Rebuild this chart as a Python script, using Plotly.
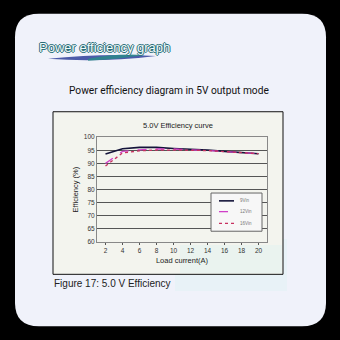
import plotly.graph_objects as go

load_current = [2, 4, 6, 8, 10, 12, 14, 16, 18, 20]
eff_9vin = [93.6, 95.6, 96.1, 96.1, 95.7, 95.5, 95.1, 94.6, 94.1, 93.7]
eff_12vin = [90.0, 94.6, 95.2, 95.5, 95.5, 95.2, 95.0, 94.6, 94.1, 93.7]
eff_16vin = [89.0, 94.0, 94.8, 95.1, 95.1, 95.0, 94.9, 94.5, 94.1, 93.7]
series_names = ["9Vin", "12Vin", "16Vin"]
y_ticks = [60, 65, 70, 75, 80, 85, 90, 95, 100]
x_ticks = [2, 4, 6, 8, 10, 12, 14, 16, 18, 20]

W = H = 340
def px(x):
    return x / W
def py(y):
    return 1 - y / H

fig = go.Figure()
styles = [
    dict(color="#14143a", width=1.6, dash="solid"),
    dict(color="#d040c8", width=1.3, dash="dash"),
    dict(color="#c83060", width=1.3, dash="dot"),
]
for name, vals, st in zip(series_names, [eff_9vin, eff_12vin, eff_16vin], styles):
    fig.add_trace(go.Scatter(x=load_current, y=vals, mode="lines", name=name,
                             line=st, showlegend=False))

# card path with rounded corners
x0, y0, x1, y1, r = 15, 10, 326, 329, 24
card = (f"M {px(x0+r)} {py(y0)} L {px(x1-r)} {py(y0)} "
        f"Q {px(x1)} {py(y0)} {px(x1)} {py(y0+r)} L {px(x1)} {py(y1-r)} "
        f"Q {px(x1)} {py(y1)} {px(x1-r)} {py(y1)} L {px(x0+r)} {py(y1)} "
        f"Q {px(x0)} {py(y1)} {px(x0)} {py(y1-r)} L {px(x0)} {py(y0+r)} "
        f"Q {px(x0)} {py(y0)} {px(x0+r)} {py(y0)} Z")
shapes = [
    dict(type="path", xref="paper", yref="paper", path=card,
         fillcolor="#f0f2fa", line=dict(width=0), layer="below"),
    dict(type="rect", xref="paper", yref="paper", x0=px(175), x1=px(287), y0=py(240), y1=py(293),
         fillcolor="#d8f2f2", opacity=0.3, line=dict(width=0), layer="below"),
    dict(type="rect", xref="paper", yref="paper", x0=px(53), x1=px(283), y0=py(110), y1=py(276),
         fillcolor="#f3f4ee", line=dict(color="#111111", width=1), layer="below"),
    dict(type="rect", xref="paper", yref="paper", x0=px(180), x1=px(282), y0=py(246), y1=py(275),
         fillcolor="#d8f2f2", opacity=0.3, line=dict(width=0), layer="below"),
    # swoosh under heading
    dict(type="path", xref="paper", yref="paper",
         path=(f"M {px(48)} {py(56)} Q {px(100)} {py(50)} {px(156)} {py(53)} "
               f"Q {px(100)} {py(60)} {px(48)} {py(56)} Z"),
         fillcolor="#2f3f9a", opacity=0.85, line=dict(width=0)),
    dict(type="path", xref="paper", yref="paper",
         path=(f"M {px(88)} {py(56)} Q {px(115)} {py(50)} {px(145)} {py(52)} "
               f"Q {px(120)} {py(56)} {px(88)} {py(58)} Z"),
         fillcolor="#2a8a8a", opacity=0.85, line=dict(width=0)),
    # legend box
    dict(type="rect", xref="paper", yref="paper", x0=px(211), x1=px(262), y0=py(193), y1=py(232),
         fillcolor="#f7f7f7", line=dict(color="#666666", width=1)),
]

annotations = [
    dict(text="Power efficiency graph", x=px(37), y=py(44), xref="paper", yref="paper",
         xanchor="left", yanchor="middle", showarrow=False,
         font=dict(family="Liberation Sans", size=13, color="#f2fbfb",
                   shadow="1px 0 0 #2a6e78, -1px 0 0 #2a6e78, 0 1px 0 #2a6e78, 0 -1px 0 #2a6e78")),
    dict(text="Power efficiency diagram in 5V output mode", x=px(169), y=py(88),
         xref="paper", yref="paper", xanchor="center", yanchor="middle", showarrow=False,
         font=dict(family="Roboto", size=10.2, color="#111111")),
    dict(text="5.0V Efficiency curve", x=px(178), y=py(124), xref="paper", yref="paper",
         xanchor="center", yanchor="middle", showarrow=False,
         font=dict(family="Liberation Sans", size=7.5, color="#222222")),
    dict(text="Figure 17: 5.0 V Efficiency", x=px(52), y=py(285), xref="paper", yref="paper",
         xanchor="left", yanchor="middle", showarrow=False,
         font=dict(family="Liberation Sans", size=10, color="#222222")),
]

# manual compact legend (samples + labels)
leg_y = [201, 212, 224]
for name, st, ly in zip(series_names, styles, leg_y):
    shapes.append(dict(type="line", xref="paper", yref="paper",
                       x0=px(219), x1=px(234), y0=py(ly), y1=py(ly),
                       line=dict(color=st["color"], width=st["width"], dash=st["dash"])))
    annotations.append(dict(text=name, x=px(238), y=py(ly), xref="paper", yref="paper",
                            xanchor="left", yanchor="middle", showarrow=False,
                            font=dict(family="Liberation Sans", size=4.5, color="#777777")))

fig.update_layout(
    width=W, height=H, margin=dict(l=0, r=0, t=0, b=0),
    paper_bgcolor="#000000", plot_bgcolor="#f9f9f6",
    shapes=shapes, annotations=annotations,
    showlegend=False,
    xaxis=dict(domain=[px(97), px(267)], range=[1, 21], tickvals=x_ticks,
               ticks="outside", ticklen=2, tickcolor="#555555",
               tickfont=dict(family="Liberation Sans", size=6.5, color="#333333"),
               showgrid=False, showline=True, linecolor="#888888", mirror=True,
               zeroline=False,
               title=dict(text="Load current(A)", standoff=4,
                          font=dict(family="Liberation Sans", size=7.5, color="#222222"))),
    yaxis=dict(domain=[py(243), py(136)], range=[60, 100], tickvals=y_ticks,
               tickfont=dict(family="Liberation Sans", size=6.5, color="#333333"),
               showgrid=True, gridcolor="#555555", gridwidth=1,
               showline=True, linecolor="#888888", mirror=True, zeroline=False,
               title=dict(text="Efficiency (%)", standoff=4,
                          font=dict(family="Liberation Sans", size=7.5, color="#222222"))),
)

fig.write_html("out.html")
